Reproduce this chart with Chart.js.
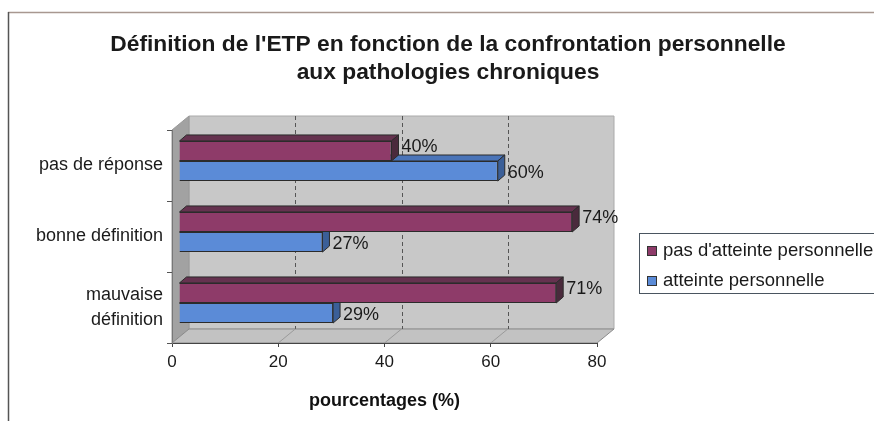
<!DOCTYPE html>
<html><head><meta charset="utf-8">
<script src="https://cdn.jsdelivr.net/npm/chart.js@4/dist/chart.umd.min.js"></script>
<style>html,body{margin:0;padding:0;background:#fff;overflow:hidden}#wrap{width:874px;height:421px;position:relative}</style>
</head><body><div id="wrap"><canvas id="c" width="874" height="421"></canvas></div>
<script>
const categories = ['pas de réponse', 'bonne définition', ['mauvaise', 'définition']];
const seriesNames = ["pas d'atteinte personnelle", 'atteinte personnelle'];
const pasAtteinte = [40, 74, 71];
const atteinte = [60, 27, 29];
const xTicks = [0, 20, 40, 60, 80];
const titleLines = ["Définition de l'ETP en fonction de la confrontation personnelle", 'aux pathologies chroniques'];
const axisTitle = 'pourcentages (%)';

const FONT = '"Liberation Sans", Arial, Helvetica, sans-serif';
const COLORS = [
  {front: '#8e3b69', top: '#65324f', side: '#4a2a3c'},
  {front: '#5b8bd7', top: '#4a74b8', side: '#3b5f98'}
];
const BOX = {x: 17, y: -14};
const BAR = {x: 7, y: -6};
const SHIFT = {x: 7, y: -4.5};

function poly(ctx, pts, fill, stroke) {
  ctx.beginPath();
  pts.forEach((p, i) => i ? ctx.lineTo(p[0], p[1]) : ctx.moveTo(p[0], p[1]));
  ctx.closePath();
  if (fill) { ctx.fillStyle = fill; ctx.fill(); }
  if (stroke) { ctx.strokeStyle = stroke; ctx.lineWidth = 1; ctx.stroke(); }
}

const decor = {
  id: 'decor',
  beforeDraw(chart) {
    const {ctx, chartArea: a, scales: {x}} = chart;
    ctx.save();
    // outer frame
    ctx.strokeStyle = '#a89890'; ctx.lineWidth = 1.5;
    ctx.beginPath(); ctx.moveTo(8, 12.5); ctx.lineTo(874, 12.5); ctx.stroke();
    ctx.strokeStyle = '#555'; ctx.lineWidth = 1.5;
    ctx.beginPath(); ctx.moveTo(8.5, 12); ctx.lineTo(8.5, 421); ctx.stroke();
    // back wall
    poly(ctx, [[a.left + BOX.x, a.top + BOX.y], [a.right + BOX.x, a.top + BOX.y], [a.right + BOX.x, a.bottom + BOX.y], [a.left + BOX.x, a.bottom + BOX.y]], '#c8c8c8', '#aaa');
    // side wall
    poly(ctx, [[a.left, a.top], [a.left + BOX.x, a.top + BOX.y], [a.left + BOX.x, a.bottom + BOX.y], [a.left, a.bottom]], '#a2a2a2', '#999');
    // floor
    poly(ctx, [[a.left, a.bottom], [a.left + BOX.x, a.bottom + BOX.y], [a.right + BOX.x, a.bottom + BOX.y], [a.right, a.bottom]], '#c2c2c2', '#8a8a8a');
    // gridlines on back wall + floor
    x.ticks.forEach(t => {
      const px = x.getPixelForValue(t.value);
      if (t.value > x.min && t.value < x.max) {
        ctx.save();
        ctx.setLineDash([4, 3]); ctx.strokeStyle = '#555'; ctx.lineWidth = 1;
        ctx.beginPath(); ctx.moveTo(Math.round(px + BOX.x) + 0.5, a.top + BOX.y); ctx.lineTo(Math.round(px + BOX.x) + 0.5, a.bottom + BOX.y); ctx.stroke();
        ctx.restore();
        ctx.strokeStyle = '#9a9a9a'; ctx.lineWidth = 1;
        ctx.beginPath(); ctx.moveTo(px, a.bottom); ctx.lineTo(px + BOX.x, a.bottom + BOX.y); ctx.stroke();
      }
    });
    ctx.restore();
  },
  beforeDatasetsDraw(chart) {
    const {ctx} = chart;
    ctx.save();
    ctx.translate(SHIFT.x, SHIFT.y);
    for (let d = chart.data.datasets.length - 1; d >= 0; d--) {
      const meta = chart.getDatasetMeta(d);
      meta.data.forEach(el => {
        const {x, y, base, height} = el.getProps(['x', 'y', 'base', 'height'], true);
        const top = y - height / 2, bot = y + height / 2;
        poly(ctx, [[base, top], [base + BAR.x, top + BAR.y], [x + BAR.x, top + BAR.y], [x, top]], COLORS[d].top, '#2b2b2b');
        poly(ctx, [[x, top], [x + BAR.x, top + BAR.y], [x + BAR.x, bot + BAR.y], [x, bot]], COLORS[d].side, '#2b2b2b');
      });
    }
  },
  afterDatasetsDraw(chart) {
    const {ctx} = chart;
    ctx.font = '18px ' + FONT;
    ctx.fillStyle = '#1a1a1a';
    ctx.textAlign = 'left'; ctx.textBaseline = 'middle';
    chart.data.datasets.forEach((ds, d) => {
      chart.getDatasetMeta(d).data.forEach((el, i) => {
        const {x, y} = el.getProps(['x', 'y'], true);
        ctx.fillText(ds.data[i] + '%', x + 10, y + (d === 0 ? -4 : 2));
      });
    });
    ctx.restore();
  },
  afterDraw(chart) {
    const {ctx} = chart;
    ctx.save();
    // title
    ctx.font = 'bold 22.8px ' + FONT;
    ctx.fillStyle = '#1a1a1a';
    ctx.textAlign = 'center'; ctx.textBaseline = 'middle';
    titleLines.forEach((t, i) => ctx.fillText(t, 448, 45 + i * 28));
    // legend
    ctx.strokeStyle = '#4a5560'; ctx.lineWidth = 1;
    ctx.strokeRect(639.5, 233.5, 260, 60);
    ctx.font = '18.5px ' + FONT;
    ctx.textAlign = 'left';
    chart.data.datasets.forEach((ds, d) => {
      const yy = 251 + d * 30;
      ctx.fillStyle = ds.backgroundColor;
      ctx.fillRect(647, yy - 5, 10, 10);
      ctx.strokeStyle = '#333';
      ctx.strokeRect(647.5, yy - 4.5, 9, 9);
      ctx.fillStyle = '#1a1a1a';
      ctx.fillText(ds.label, 663, yy);
    });
    ctx.restore();
  }
};

new Chart(document.getElementById('c'), {
  type: 'bar',
  data: {
    labels: categories,
    datasets: [
      {label: seriesNames[0], data: pasAtteinte, backgroundColor: COLORS[0].front, borderColor: '#2b2b2b', borderWidth: 1},
      {label: seriesNames[1], data: atteinte, backgroundColor: COLORS[1].front, borderColor: '#2b2b2b', borderWidth: 1}
    ]
  },
  options: {
    indexAxis: 'y',
    responsive: false,
    animation: false,
    devicePixelRatio: 1,
    layout: {padding: {left: 0, top: 130, right: 277, bottom: 0}},
    datasets: {bar: {categoryPercentage: 0.565, barPercentage: 1}},
    plugins: {legend: {display: false}, title: {display: false}, tooltip: {enabled: false}},
    scales: {
      x: {
        min: 0, max: 80,
        afterBuildTicks: s => { s.ticks = xTicks.map(v => ({value: v})); },
        ticks: {font: {family: FONT, size: 17}, color: '#1a1a1a', padding: 5},
        grid: {drawOnChartArea: false, tickLength: 4, color: '#444'},
        border: {color: '#444'},
        title: {display: true, text: axisTitle, color: '#111', font: {family: FONT, size: 18, weight: 'bold'}, padding: {top: 0, bottom: 9}},
        afterFit: s => { s.height = 78; s.paddingLeft = 0; s.paddingRight = 0; }
      },
      y: {
        ticks: {font: {family: FONT, size: 18, lineHeight: 1.4}, color: '#1a1a1a', padding: 4},
        grid: {drawOnChartArea: false, tickLength: 5, color: '#555'},
        border: {color: '#777'},
        afterFit: s => { s.width = 172; s.paddingTop = 0; s.paddingBottom = 0; }
      }
    }
  },
  plugins: [decor]
});
</script>
</body></html>
